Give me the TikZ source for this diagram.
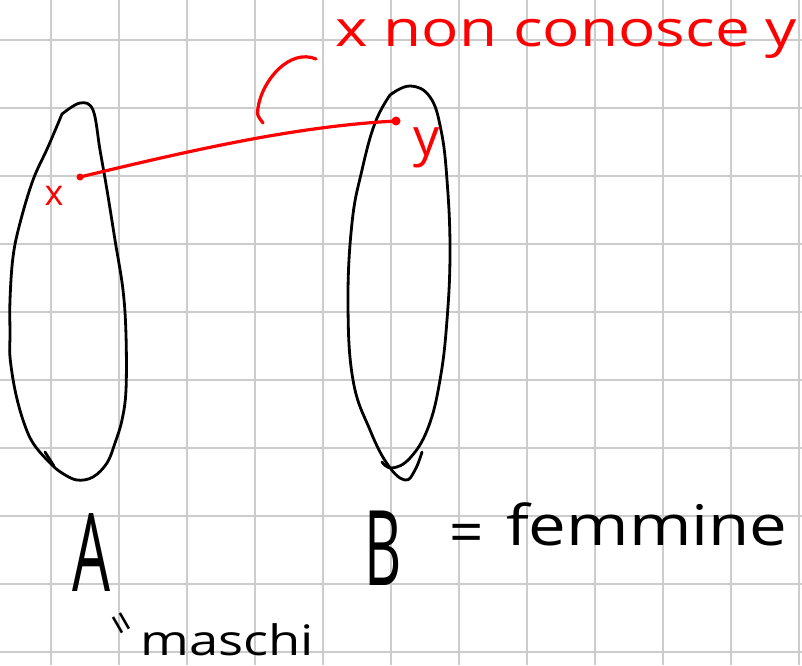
\documentclass[tikz,border=0pt]{standalone}
\usepackage{fontspec}
\setmainfont{Open Sans}
\usepackage{xcolor}
\usepackage{tikz}

\begin{document}
\begin{tikzpicture}[x=1pt, y=-1pt,
    gridline/.style={draw=black!20, line width=1.8pt},
    ink/.style={draw=black, line width=2.8pt, line cap=round, line join=round},
    redink/.style={draw=red, line width=3.2pt, line cap=round, line join=round},
    hand/.style={inner sep=0pt, anchor=base west}]
    \useasboundingbox (0,0) rectangle (802,665);
    \fill[white] (0,0) rectangle (802,665);

    % squared paper
    \foreach \gx in {51,119,...,799}
      \draw[gridline] (\gx,0) -- (\gx,665);
    \foreach \gy in {40,108,...,652}
      \draw[gridline] (0,\gy) -- (802,\gy);

    % set A
    \draw[ink] plot[smooth, tension=0.6] coordinates {
      (62,114) (80,103) (93,110) (100,150) (107,190) (115,240) (123,290)
      (126,335) (126,390) (122,420) (115,443) (107,463) (93,477) (77,480)
      (62,473) (50,463) (33,443) (23,420) (15,390) (10,357) (10,335)
      (10,300) (13,257) (20,223) (33,180) (48,147) (62,114)};
    \draw[ink] (45,452) -- (54,466);
    % set B
    \draw[ink] plot[smooth, tension=0.7] coordinates {
      (390,95) (410,86) (430,97) (441,130) (447,180) (450,250) (447,320)
      (440,380) (428,428) (410,458) (392,468) (382,462)};
    \draw[ink] plot[smooth, tension=0.7] coordinates {
      (390,95) (375,123) (362,170) (352,223) (348,303) (353,380) (370,430)
      (388,465) (405,480) (415,470) (422,452)};

    % the two elements
    \coordinate (px) at (80,177);
    \coordinate (py) at (396,121);
    \draw[redink] (px) .. controls (200,148) and (300,126) .. (py);
    \fill[red] (px) circle (3.5);
    \fill[red] (py) circle (4.5);
    \node[text=red, font=\fontsize{36}{36}\selectfont] (lx) at (54,196) {x};
    \node[text=red, font=\fontsize{52}{52}\selectfont] (ly) at (427,148) {y};

    % what is said about x and y
    \draw[redink] (316,59) .. controls (290,48) and (262,80) .. (258,108)
      .. controls (257,115) .. (263,123);
    \node[hand, text=red, font=\fontsize{50}{60}\selectfont] (claim) at (335,46)
      {\scalebox{1.24}[1]{x non conosce y}};

    % names of the sets
    \node[inner sep=0pt, font=\fontsize{75}{75}\selectfont] (setA) at (91,553) {\scalebox{0.8}[1.45]{A}};
    \node[inner sep=0pt, font=\fontsize{72}{72}\selectfont] (setB) at (383,548) {\scalebox{0.8}[1.45]{B}};
    \node[inner sep=0pt, font=\fontsize{60}{60}\selectfont] (eqB) at (467,539) {=};
    \node[hand, font=\fontsize{56}{56}\selectfont] (femB) at (506,545) {\scalebox{1.2}[1]{femmine}};
    \node[inner sep=0pt, rotate=-60, font=\fontsize{40}{40}\selectfont] (eqA) at (118,626) {=};
    \node[hand, font=\fontsize{42}{42}\selectfont] (masA) at (140,655) {\scalebox{1.25}[1]{maschi}};
  \end{tikzpicture}
\end{document}
